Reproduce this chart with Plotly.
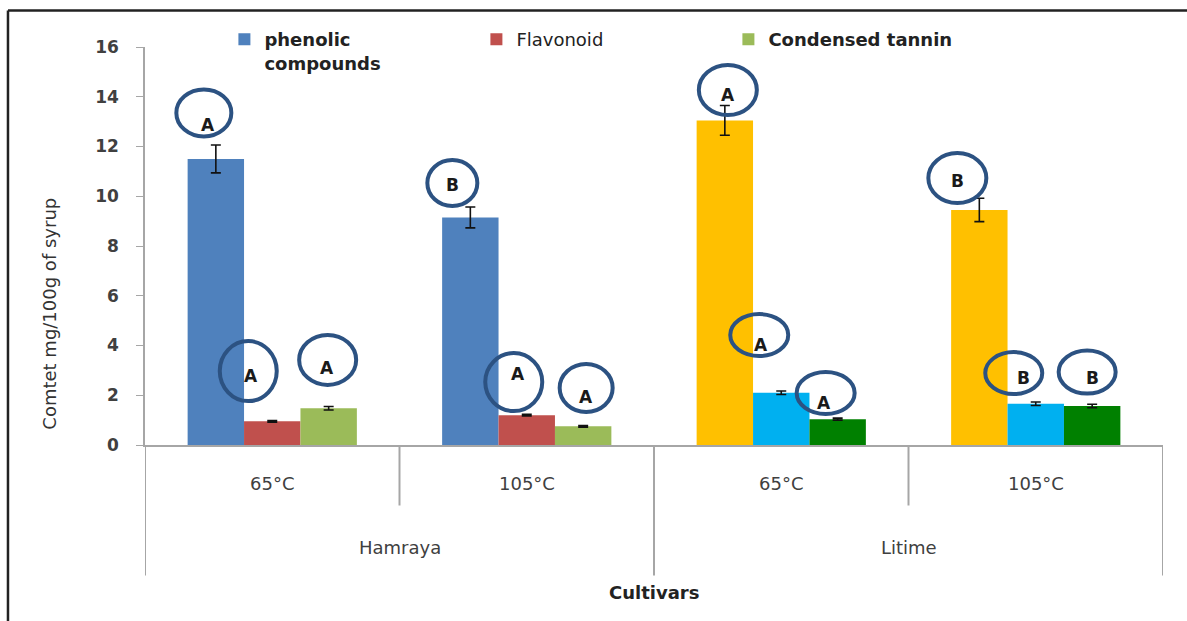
import plotly.graph_objects as go

# ---------------- data ----------------
cultivars = ["Hamraya", "Hamraya", "Litime", "Litime"]
temperatures = ["65°C", "105°C", "65°C", "105°C"]
categories = [c + " " + t for c, t in zip(cultivars, temperatures)]

series_names = ["<b>phenolic<br>compounds</b>", "Flavonoid", "<b>Condensed tannin</b>"]
phenolic = [11.5, 9.15, 13.05, 9.45]
phenolic_err = [0.56, 0.42, 0.6, 0.47]
flavonoid = [0.95, 1.2, 2.1, 1.66]
flavonoid_err = [0.03, 0.03, 0.07, 0.07]
tannin = [1.48, 0.75, 1.04, 1.57]
tannin_err = [0.07, 0.03, 0.04, 0.07]

# letters of significance (series index, category index, letter)
letters = [
    (0, 0, "A"), (1, 0, "A"), (2, 0, "A"),
    (0, 1, "B"), (1, 1, "A"), (2, 1, "A"),
    (0, 2, "A"), (1, 2, "A"), (2, 2, "A"),
    (0, 3, "B"), (1, 3, "B"), (2, 3, "B"),
]
y_ticks = [0, 2, 4, 6, 8, 10, 12, 14, 16]
y_title = "Comtet mg/100g of syrup"
x_title = "Cultivars"

# ---------------- styling ----------------
colors = [
    ["#4F81BD", "#4F81BD", "#FFC000", "#FFC000"],
    ["#C0504D", "#C0504D", "#00B0F0", "#00B0F0"],
    ["#9BBB59", "#9BBB59", "#008000", "#008000"],
]
# circle placement: (dx px from bar centre, y data of circle centre, w, h, letter dx, letter dy px)
circle_style = [
    (-12, 13.35, 55, 47, 4, 12), (-24, 2.97, 57, 60, 3, 5), (-1, 3.42, 57, 50, -1, 8),
    (-18, 10.53, 50, 46, 0, 2), (-13, 2.53, 57, 58, 4, -8), (3, 2.29, 53, 48, 0, 9),
    (3, 14.27, 58, 50, 0, 5), (-22, 4.42, 58, 42, 2, 10), (-12, 2.09, 58, 42, -2, 10),
    (-22, 10.73, 58, 50, 0, 3), (-22, 2.89, 57, 42, 10, 5), (-5, 2.93, 57, 43, 5, 6),
]
bargap = 0.335
bw = (1 - bargap) / 3
FONT = "DejaVu Sans"
TXT = "#404040"
AX = "#A6A6A6"

values = [phenolic, flavonoid, tannin]
errors = [phenolic_err, flavonoid_err, tannin_err]

fig = go.Figure()
for i in range(3):
    fig.add_trace(go.Bar(
        x=categories, y=values[i], name=series_names[i],
        marker=dict(color=colors[i], line=dict(width=0)),
        error_y=dict(type="data", array=errors[i], color="#111111", thickness=1.6, width=5),
    ))

shapes = []
annotations = []
for (s, c, letter), (dx, yc, w, h, ldx, ldy) in zip(letters, circle_style):
    xa = c + (s - 1) * bw
    shapes.append(dict(type="circle", xref="x", yref="y", xsizemode="pixel", ysizemode="pixel",
                       xanchor=xa, yanchor=yc, x0=dx - w / 2, x1=dx + w / 2, y0=-h / 2, y1=h / 2,
                       line=dict(color="#2C5282", width=4), layer="above"))
    annotations.append(dict(x=xa, y=yc, xref="x", yref="y", text="<b>" + letter + "</b>",
                            showarrow=False, xshift=dx + ldx, yshift=-ldy,
                            font=dict(family=FONT, size=17, color="#1a1a1a")))

# category axis lines (boundaries) below the plot
n = len(categories)
for k in range(n + 1):
    b = k - 0.5
    outer = (k == 0 or k == n or cultivars[min(k, n - 1)] != cultivars[k - 1])
    shapes.append(dict(type="line", xref="x", yref="paper", x0=b, x1=b, y0=0,
                       y1=-0.328 if outer else -0.152, line=dict(color=AX, width=2)))

for k, t in enumerate(temperatures):
    annotations.append(dict(x=k, y=0, xref="x", yref="paper", yshift=-51, text=t, showarrow=False,
                            font=dict(family=FONT, size=18, color=TXT)))
seen = []
for cv in cultivars:
    if cv not in seen:
        seen.append(cv)
for cv in seen:
    idx = [k for k, c in enumerate(cultivars) if c == cv]
    annotations.append(dict(x=(idx[0] + idx[-1]) / 2, y=0, xref="x", yref="paper", yshift=-115,
                            text=cv, showarrow=False, font=dict(family=FONT, size=18, color=TXT)))
annotations.append(dict(x=0.5, y=0, xref="paper", yref="paper", yshift=-160, text="<b>" + x_title + "</b>",
                        showarrow=False, font=dict(family=FONT, size=18, color="#222222")))
# y-axis title (sits lower than centre in the original)
annotations.append(dict(x=-0.0933, y=0.33, xref="paper", yref="paper", text=y_title, textangle=-90,
                        showarrow=False, xanchor="center", yanchor="middle",
                        font=dict(family=FONT, size=18, color="#333333")))

# outer frame (top and left)
shapes.append(dict(type="line", xref="paper", yref="paper", x0=-0.1346, x1=1.03, y0=1.092, y1=1.092,
                   line=dict(color="#222222", width=2.5)))
shapes.append(dict(type="line", xref="paper", yref="paper", x0=-0.1346, x1=-0.1346, y0=1.092, y1=-0.45,
                   line=dict(color="#222222", width=2.5)))

fig.update_layout(
    width=1187, height=621,
    margin=dict(l=145, r=24, t=47, b=176),
    paper_bgcolor="white", plot_bgcolor="white",
    barmode="group", bargap=bargap, bargroupgap=0,
    font=dict(family=FONT, color=TXT),
    showlegend=True,
    legend=dict(orientation="h", x=0.078, y=1.065, xanchor="left", yanchor="top",
                entrywidth=207, entrywidthmode="pixels", valign="top",
                font=dict(family=FONT, size=18, color="#222222"), bgcolor="rgba(0,0,0,0)"),
    xaxis=dict(type="category", range=[-0.5, n - 0.5], showticklabels=False, ticks="",
               showline=True, linecolor=AX, linewidth=2, showgrid=False, zeroline=False),
    yaxis=dict(range=[0, 16], tickvals=y_ticks, ticks="outside", ticklen=7, tickcolor=AX,
               showline=True, linecolor=AX, linewidth=1.5, showgrid=False, zeroline=False,
               ticklabelstandoff=14,
               tickfont=dict(family=FONT, size=17, color=TXT, weight="bold")),
    shapes=shapes, annotations=annotations,
)

fig.write_html("out.html")
